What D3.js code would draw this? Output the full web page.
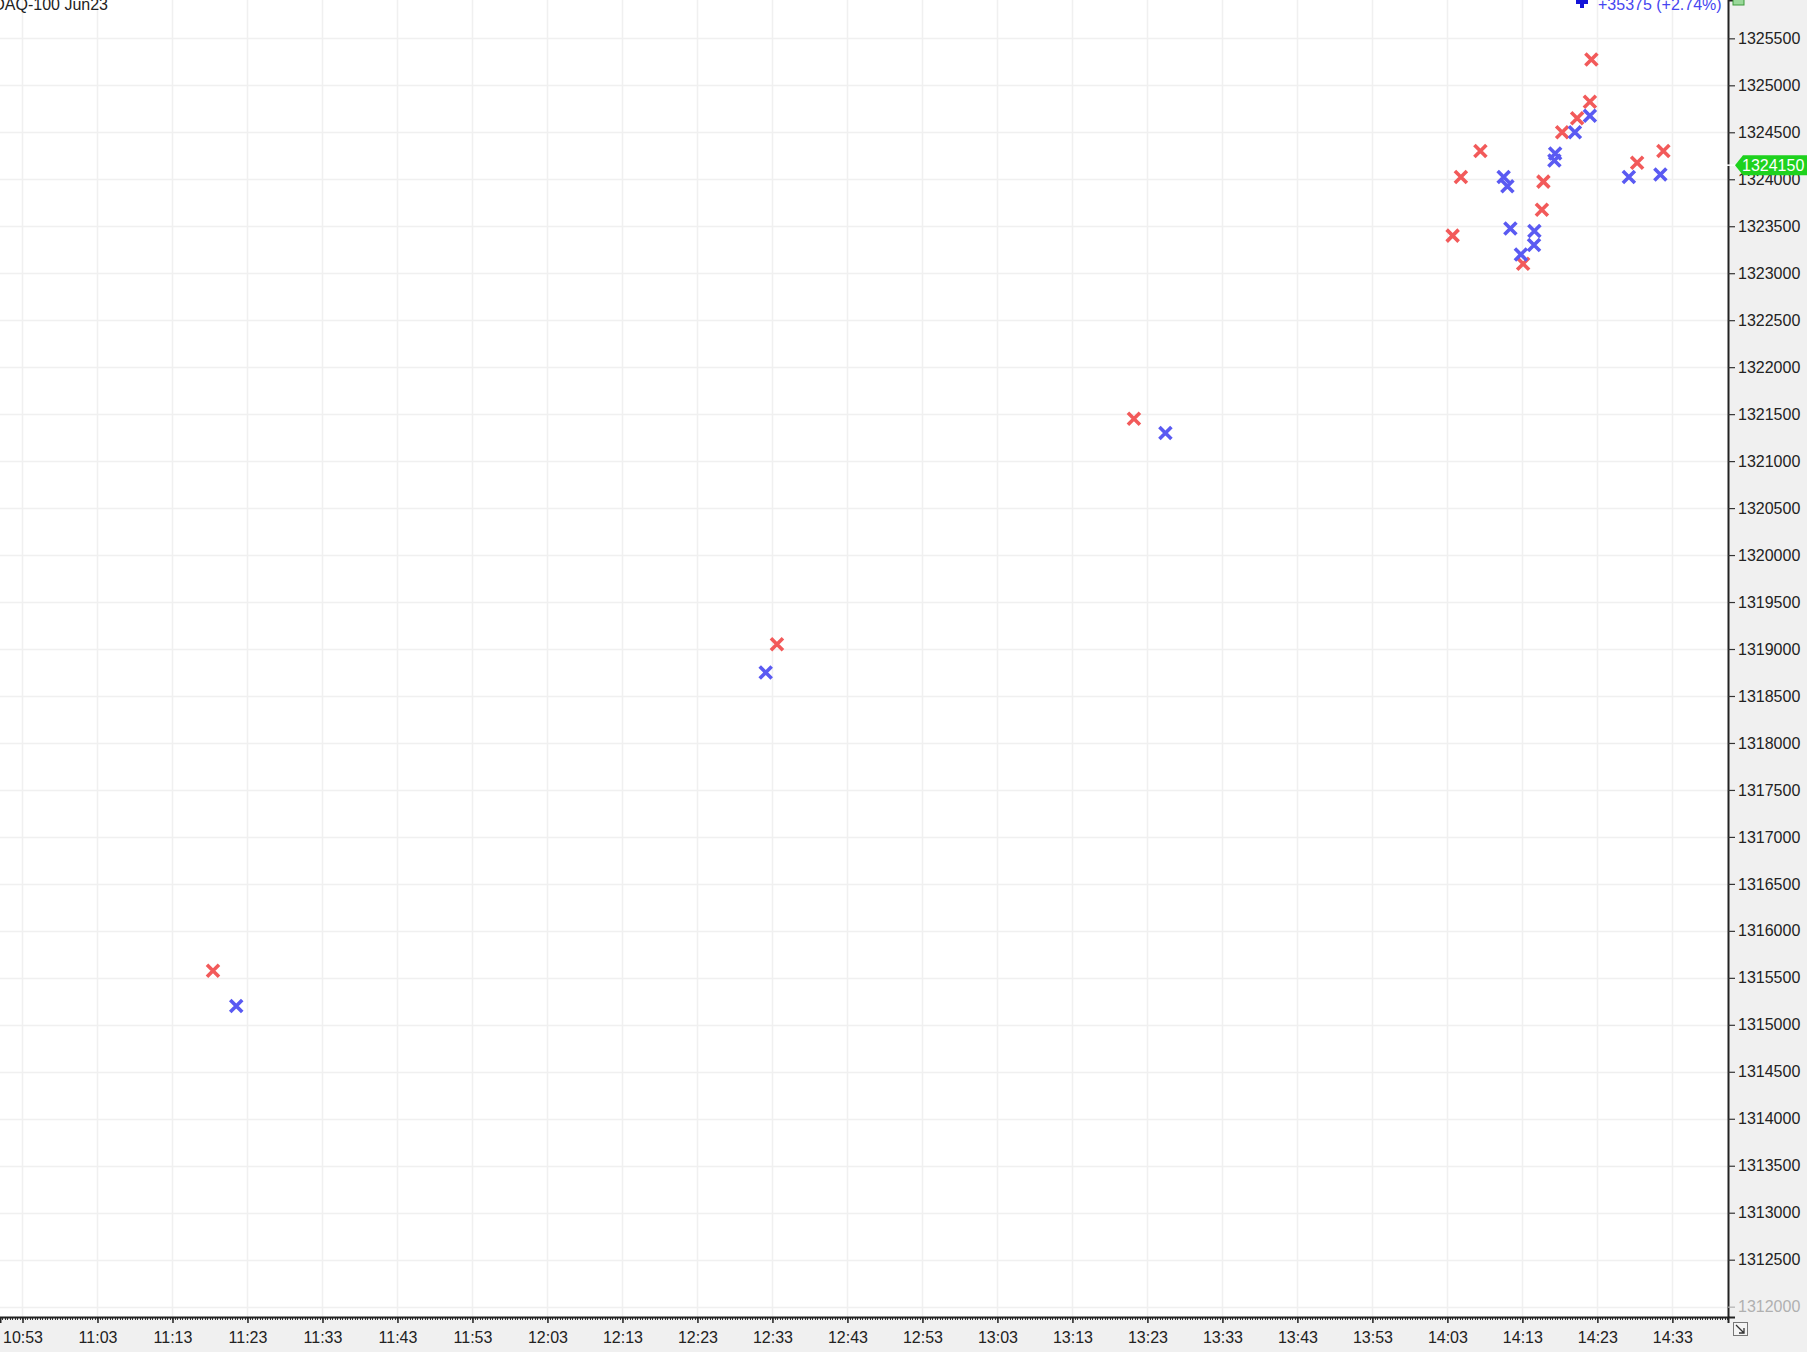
<!DOCTYPE html>
<html>
<head>
<meta charset="utf-8">
<script src="https://cdn.jsdelivr.net/npm/d3@7"></script>
<style>
  html, body { margin: 0; padding: 0; background: #f0f0f0; overflow: hidden; }
  svg text { font-family: "Liberation Sans", Arial, sans-serif; }
</style>
</head>
<body>
<svg id="chart"></svg>
<script>
// fills
var redTimes = ["11:18:24", "12:33:36", "13:21:12", "14:03:42", "14:04:48", "14:07:24",
    "14:13:06", "14:15:36", "14:15:48", "14:18:18", "14:20:18", "14:22:00",
    "14:22:12", "14:28:18", "14:31:48"];
var redValues = [1315575, 1319050, 1321450, 1323400, 1324025, 1324300,
    1323100, 1323675, 1323975, 1324500, 1324650, 1324825,
    1325275, 1324175, 1324300];

var blueTimes = ["11:21:30", "12:32:06", "13:25:24", "14:10:30", "14:11:00", "14:11:24",
    "14:12:48", "14:14:33", "14:14:36", "14:17:22", "14:17:16", "14:20:00",
    "14:22:00", "14:27:12", "14:31:24"];
var blueValues = [1315200, 1318750, 1321300, 1324025, 1323925, 1323475,
    1323200, 1323300, 1323450, 1324275, 1324200, 1324500,
    1324675, 1324025, 1324050];

var xTickLabels = ["10:53", "11:03", "11:13", "11:23", "11:33", "11:43", "11:53", "12:03",
    "12:13", "12:23", "12:33", "12:43", "12:53", "13:03", "13:13", "13:23",
    "13:33", "13:43", "13:53", "14:03", "14:13", "14:23", "14:33"];
var yTicks = d3.range(1312000, 1325501, 500);

var lastPrice = 1324150;
var title = "NASDAQ-100 Jun23";
var change = "+35375 (+2.74%)";

var W = 1807, H = 1352;
var plotW = 1728, plotH = 1317;

var parseT = d3.timeParse("%H:%M:%S");
var parseHM = d3.timeParse("%H:%M");

var x = d3.scaleTime()
    .domain([parseT("10:50:00"), parseT("14:40:25")])
    .range([0, plotW]);
var y = d3.scaleLinear()
    .domain([1311890, 1325908])
    .range([plotH, 0]);

var svg = d3.select("#chart")
    .attr("width", W)
    .attr("height", H);

svg.append("rect").attr("width", W).attr("height", H).attr("fill", "#f0f0f0");
svg.append("rect").attr("width", plotW).attr("height", plotH).attr("fill", "#ffffff");

var xTicks = xTickLabels.map(function(s) { return parseHM(s); });

// grid
var grid = svg.append("g").attr("stroke", "#f0f0f0").attr("stroke-width", 1.5);
grid.selectAll("line.v").data(xTicks).enter()
    .append("line")
    .attr("x1", function(d) { return Math.round(x(d)) + 0.5; })
    .attr("x2", function(d) { return Math.round(x(d)) + 0.5; })
    .attr("y1", 0).attr("y2", plotH);
grid.selectAll("line.h").data(yTicks).enter()
    .append("line")
    .attr("y1", function(d) { return Math.round(y(d)) + 0.5; })
    .attr("y2", function(d) { return Math.round(y(d)) + 0.5; })
    .attr("x1", 0).attr("x2", plotW);

// x axis: minor ticks every 20 s, major every 10 min
var minor = d3.timeSecond.every(20).range(x.domain()[0], x.domain()[1]);
svg.append("g").selectAll("line").data(minor).enter()
    .append("line")
    .attr("x1", function(d) { return Math.round(x(d)) + 0.5; })
    .attr("x2", function(d) { return Math.round(x(d)) + 0.5; })
    .attr("y1", plotH).attr("y2", plotH + 3)
    .attr("stroke", "#333").attr("stroke-width", 1);

var xAxis = d3.axisBottom(x)
    .tickValues(xTicks)
    .tickFormat(d3.timeFormat("%H:%M"))
    .tickSize(6)
    .tickPadding(6);
var gx = svg.append("g")
    .attr("transform", "translate(0," + plotH + ")")
    .call(xAxis);
gx.select(".domain").attr("stroke", "#222").attr("stroke-width", 2);
gx.selectAll(".tick line").attr("stroke", "#222").attr("stroke-width", 1.5);
gx.selectAll(".tick text")
    .attr("font-size", 16)
    .attr("fill", "#222")
    .attr("dy", "0.85em");

// y axis on the right
var yAxis = d3.axisRight(y)
    .tickValues(yTicks)
    .tickFormat(d3.format("d"))
    .tickSize(7)
    .tickPadding(3);
var gy = svg.append("g")
    .attr("transform", "translate(" + plotW + ",0)")
    .call(yAxis);
gy.select(".domain").attr("stroke", "#222").attr("stroke-width", 2);
gy.selectAll(".tick line").attr("stroke", "#333").attr("stroke-width", 1.2);
gy.selectAll(".tick text")
    .attr("font-size", 16)
    .attr("fill", "#222");
var faint = gy.selectAll(".tick").filter(function(d) { return d === 1312000; });
faint.select("line").attr("stroke", "#b0b0b0");
faint.select("text").attr("fill", "#b0b0b0");

// fills as crosses
function drawCrosses(times, values, colour) {
    var pts = times.map(function(t, i) { return { t: parseT(t), v: values[i] }; });
    svg.append("g").selectAll("path").data(pts).enter()
        .append("path")
        .attr("transform", function(d) { return "translate(" + x(d.t) + "," + y(d.v) + ")"; })
        .attr("d", "M-6,-6L6,6M-6,6L6,-6")
        .attr("stroke", colour)
        .attr("stroke-width", 3.6)
        .attr("fill", "none");
}
drawCrosses(redTimes, redValues, "#f25a5a");
drawCrosses(blueTimes, blueValues, "#5a5af2");

// last price marker
var ly = y(lastPrice);
svg.append("line")
    .attr("x1", plotW - 8).attr("x2", plotW + 10)
    .attr("y1", ly).attr("y2", ly)
    .attr("stroke", "#ffffff").attr("stroke-width", 1.5);
svg.append("path")
    .attr("d", "M" + (plotW + 7) + "," + ly +
        "L" + (plotW + 15) + "," + (ly - 10) +
        "L" + W + "," + (ly - 10) +
        "L" + W + "," + (ly + 10) +
        "L" + (plotW + 15) + "," + (ly + 10) + "Z")
    .attr("fill", "#1ed21e");
svg.append("text")
    .attr("x", plotW + 14).attr("y", ly + 6)
    .attr("font-size", 16)
    .attr("fill", "#ffffff")
    .text(d3.format("d")(lastPrice));

// header texts
svg.append("text")
    .attr("x", 108).attr("y", 10)
    .attr("text-anchor", "end")
    .attr("font-size", 16)
    .attr("fill", "#222")
    .text(title);

svg.append("path")
    .attr("d", "M1580,-4h4v4h4v4h-4v4h-4v-4h-4v-4h4Z")
    .attr("fill", "#1414d8");
svg.append("text")
    .attr("x", 1598).attr("y", 10)
    .attr("font-size", 16)
    .attr("fill", "#4646f0")
    .text(change);
svg.append("rect")
    .attr("x", 1733).attr("y", -4).attr("width", 11).attr("height", 9)
    .attr("fill", "#9ad89a").attr("stroke", "#3a9a3a").attr("stroke-width", 1);

// corner button
svg.append("rect")
    .attr("x", 1733.5).attr("y", 1322.5).attr("width", 14).attr("height", 13)
    .attr("fill", "#f4f4f4").attr("stroke", "#777").attr("stroke-width", 1);
svg.append("path")
    .attr("d", "M1736,1325L1744,1333M1744,1328L1744,1333L1739,1333")
    .attr("stroke", "#333").attr("stroke-width", 1.3).attr("fill", "none");
</script>
</body>
</html>
